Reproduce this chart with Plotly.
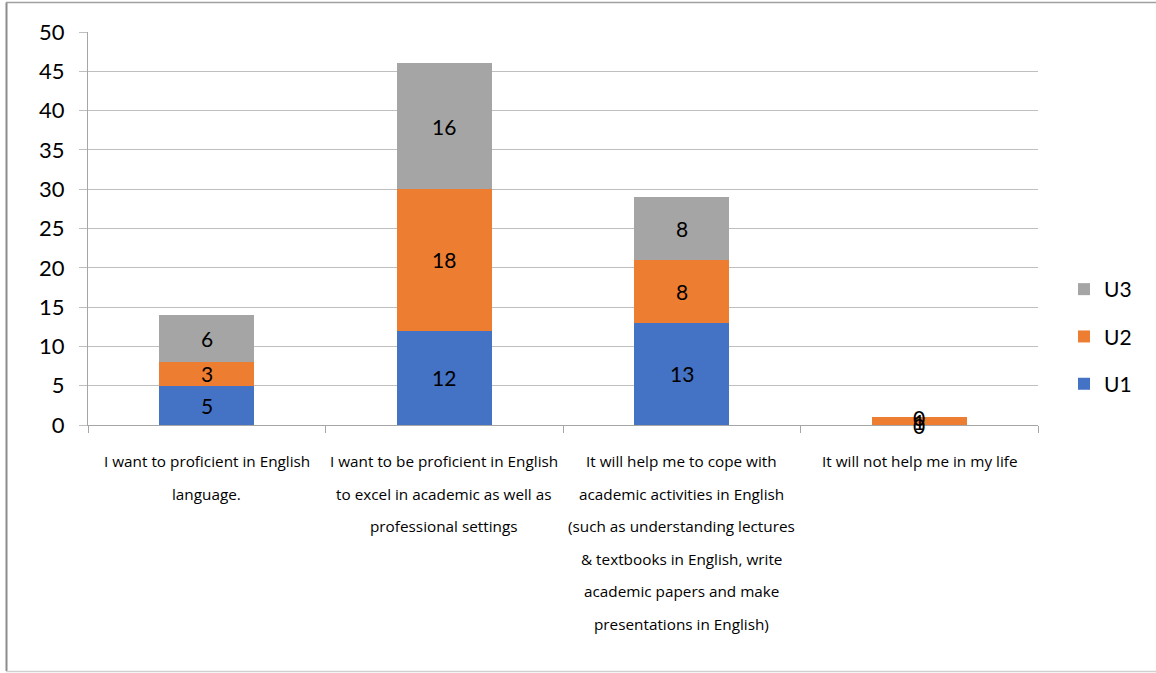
import plotly.graph_objects as go

# Survey responses per reason, stacked by group
category_lines = [
    ["I want to proficient in English", "language."],
    ["I want to be proficient in English", "to excel in academic as well as", "professional settings"],
    ["It will help me to cope with", "academic activities in English",
     "(such as understanding lectures", "& textbooks in English, write",
     "academic papers and make", "presentations in English)"],
    ["It will not help me in my life"],
]
categories = [" ".join(lines) for lines in category_lines]

series_names = ["U1", "U2", "U3"]
u1 = [5, 12, 13, 0]
u2 = [3, 18, 8, 1]
u3 = [6, 16, 8, 0]
series_values = [u1, u2, u3]
series_colors = ["#4472C4", "#ED7D31", "#A5A5A5"]
legend_ranks = [3, 2, 1]

y_ticks = [0, 5, 10, 15, 20, 25, 30, 35, 40, 45, 50]

FONT = "Lato, 'Open Sans', sans-serif"
LABEL_FONT = "'Open Sans', Lato, sans-serif"

fig = go.Figure()
for name, vals, color, rank in zip(series_names, series_values, series_colors, legend_ranks):
    fig.add_trace(go.Bar(
        x=categories, y=vals, name=name, marker_color=color,
        marker_line_width=0, legendgroup=name, legendrank=rank,
        hoverinfo="skip",
    ))

# Value labels centred in each stacked segment
annotations = []
for ci, cat in enumerate(categories):
    base = 0
    for vals in series_values:
        v = vals[ci]
        annotations.append(dict(
            x=cat, y=base + v / 2, xref="x", yref="y", text=str(v),
            showarrow=False, font=dict(family=FONT, size=21, color="#000000"),
        ))
        base += v

# Category labels, one line each with generous line spacing
for cat, lines in zip(categories, category_lines):
    for li, line in enumerate(lines):
        annotations.append(dict(
            x=cat, y=0, xref="x", yref="paper", text=line, showarrow=False,
            yanchor="middle", yshift=-(36 + li * 32.6),
            font=dict(family=LABEL_FONT, size=15.3, color="#000000"),
        ))

L, R, T, B = 88, 118, 32, 248
W, H = 1156, 673
pw = W - L - R
ph = H - T - B

def px_x(p):
    return (p - L) / pw

def px_y(p):
    return (H - B - p) / ph

shapes = [
    dict(type="line", xref="paper", yref="paper", x0=px_x(6.5), x1=px_x(6.5),
         y0=px_y(2.5), y1=px_y(671), line=dict(color="#8C8C8C", width=2)),
    dict(type="line", xref="paper", yref="paper", x0=px_x(6), x1=px_x(1160),
         y0=px_y(2.5), y1=px_y(2.5), line=dict(color="#A0A0A0", width=1.5)),
    dict(type="line", xref="paper", yref="paper", x0=px_x(6), x1=px_x(1160),
         y0=px_y(671.5), y1=px_y(671.5), line=dict(color="#D0D0D0", width=1.5)),
]

fig.update_layout(
    width=W, height=H,
    barmode="stack", bargap=0.6,
    paper_bgcolor="white", plot_bgcolor="white",
    margin=dict(l=L, r=R, t=T, b=B),
    font=dict(family=FONT, size=21, color="#000000"),
    showlegend=True,
    legend=dict(
        x=px_x(1064), y=px_y(269), xanchor="left", yanchor="top",
        traceorder="grouped", tracegroupgap=17,
        font=dict(family=FONT, size=21, color="#000000"),
        bgcolor="rgba(0,0,0,0)",
    ),
    annotations=annotations,
    shapes=shapes,
    xaxis=dict(
        showticklabels=False, showgrid=False, showline=True,
        linecolor="#A6A6A6", linewidth=1,
        ticks="outside", tickson="boundaries", ticklen=7, tickcolor="#A6A6A6",
        fixedrange=True,
    ),
    yaxis=dict(
        range=[0, 50], tickvals=y_ticks, showgrid=True, gridcolor="#BFBFBF",
        gridwidth=1, showline=True, linecolor="#A6A6A6", linewidth=1,
        ticks="outside", ticklen=8, tickcolor="#BFBFBF", ticklabelstandoff=10,
        tickfont=dict(family=FONT, size=22, color="#000000"),
        zeroline=False, fixedrange=True,
    ),
)

fig.write_html("out.html")
